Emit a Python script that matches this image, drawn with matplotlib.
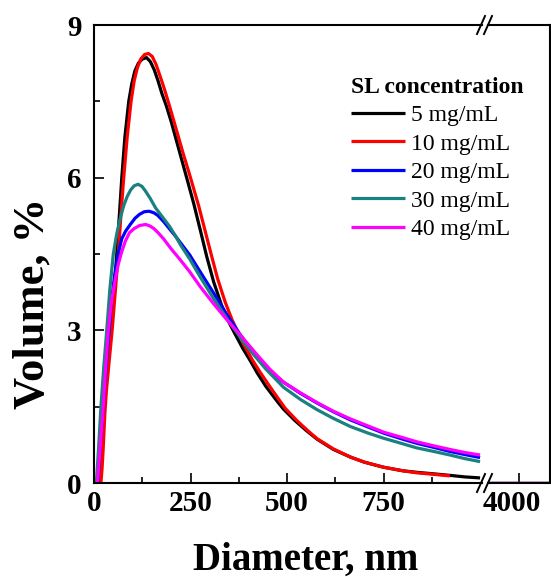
import numpy as np
import matplotlib
matplotlib.use('Agg')
import matplotlib.pyplot as plt
import matplotlib.transforms as mtransforms

plt.rcParams['font.family'] = ['Liberation Serif', 'DejaVu Serif']

# size distributions (diameter in nm, volume in %)
black_nm = [12, 15, 18, 21, 24, 30, 37, 44, 52, 59, 66, 72, 80, 90, 98, 106, 115, 125, 136, 146, 156, 166,
            176, 187, 200, 220, 240, 258, 275, 292, 310, 330, 350, 366, 385, 405, 423, 445, 475, 491, 520,
            550, 578, 620, 664, 700, 750, 800, 836, 880, 922, 960, 1000]
black_v = [0, 0.25, 0.6, 1.0, 1.5, 2.0, 2.5, 3.0, 3.8, 4.5, 5.3, 6.0, 6.8, 7.5, 7.85, 8.1, 8.25, 8.33, 8.36, 8.28, 8.12, 7.9,
           7.65, 7.42, 7.1, 6.55, 6.0, 5.5, 4.98, 4.45, 3.95, 3.5, 3.15, 2.92, 2.65, 2.4, 2.16, 1.9, 1.6, 1.45, 1.23,
           1.03, 0.86, 0.66, 0.51, 0.41, 0.31, 0.24, 0.21, 0.18, 0.15, 0.12, 0.10]

red_nm = [18, 21, 24, 28, 32, 40, 47, 55, 63, 70, 77, 86, 96, 104, 112, 121, 131, 141, 151, 161, 171, 182,
          194, 210, 230, 248, 271, 288, 305, 320, 340, 358, 372, 390, 410, 430, 455, 478, 495, 525, 555, 578,
          620, 664, 700, 750, 800, 836, 880, 922]
red_v = [0, 0.3, 0.7, 1.35, 1.8, 2.45, 3.0, 3.75, 4.5, 5.3, 6.0, 6.8, 7.5, 7.9, 8.15, 8.33, 8.42, 8.44, 8.38, 8.22, 8.0, 7.75,
         7.45, 7.03, 6.5, 6.05, 5.45, 4.95, 4.45, 4.02, 3.55, 3.2, 2.98, 2.7, 2.42, 2.18, 1.9, 1.65, 1.47, 1.23, 1.02, 0.87,
         0.67, 0.51, 0.41, 0.31, 0.24, 0.2, 0.17, 0.14]

blue_nm = [9, 12, 15, 19, 24, 31, 39, 45, 52, 58, 64, 72, 82, 94, 106, 118, 130, 143, 155, 165, 180, 195, 210,
           224, 248, 275, 310, 345, 380, 420, 455, 491, 535, 578, 620, 664, 710, 750, 800, 836, 880, 922, 960, 1000]
blue_v = [0, 0.3, 0.6, 1.0, 1.5, 2.25, 3.0, 3.55, 4.0, 4.3, 4.55, 4.8, 4.95, 5.08, 5.2, 5.28, 5.33, 5.34, 5.31, 5.26, 5.14, 5.0, 4.86,
          4.72, 4.48, 4.15, 3.73, 3.3, 2.9, 2.5, 2.2, 1.98, 1.76, 1.57, 1.4, 1.24, 1.1, 0.98, 0.86, 0.78, 0.7, 0.62, 0.56, 0.5]

teal_nm = [6, 9, 12, 15, 18, 25, 33, 41, 50, 59, 68, 77, 86, 95, 104, 114, 124, 133, 145, 160, 178, 195, 210,
           224, 248, 275, 310, 345, 380, 405, 445, 491, 535, 578, 620, 664, 710, 750, 800, 836, 880, 922, 960, 1000]
teal_v = [0, 0.35, 0.7, 1.1, 1.5, 2.25, 3.0, 3.8, 4.5, 4.9, 5.2, 5.45, 5.63, 5.76, 5.84, 5.87, 5.83, 5.74, 5.6, 5.4, 5.22, 5.05, 4.87,
          4.68, 4.4, 4.05, 3.62, 3.22, 2.85, 2.6, 2.24, 1.88, 1.64, 1.44, 1.27, 1.11, 0.98, 0.88, 0.77, 0.69, 0.62, 0.55, 0.48, 0.42]

mag_nm = [9, 12, 15, 19, 24, 30, 37, 46, 55, 63, 70, 81, 92, 104, 118, 134, 145, 155, 167, 180, 200, 224, 248,
          275, 310, 345, 380, 420, 455, 491, 535, 578, 620, 664, 710, 750, 800, 836, 880, 922, 960, 1000]
mag_v = [0, 0.3, 0.6, 1.0, 1.5, 2.25, 3.0, 3.6, 4.0, 4.3, 4.5, 4.75, 4.92, 5.0, 5.06, 5.08, 5.05, 5.0, 4.91, 4.8, 4.6, 4.38, 4.15,
         3.86, 3.52, 3.2, 2.9, 2.54, 2.24, 1.98, 1.77, 1.58, 1.41, 1.26, 1.12, 1.0, 0.89, 0.81, 0.73, 0.66, 0.6, 0.55]

# past the axis break everything sits on zero
tail_nm = [3900, 4100]
tail_v = [0, 0]

labels = ['5 mg/mL', '10 mg/mL', '20 mg/mL', '30 mg/mL', '40 mg/mL']
colors = ['#000000', '#ff0000', '#0000ff', '#1a8080', '#ff00ff']
series = [(black_nm, black_v), (red_nm, red_v), (blue_nm, blue_v), (teal_nm, teal_v), (mag_nm, mag_v)]

W, H = 551, 577
fig = plt.figure(figsize=(W / 100, H / 100), dpi=100)

y0, y1 = 483, 25
ax = fig.add_axes([94 / W, (H - y0) / H, (482 - 94) / W, (y0 - y1) / H])
ax2 = fig.add_axes([488 / W, (H - y0) / H, (549.5 - 488) / W, (y0 - y1) / H])
ax2.patch.set_visible(False)

lw = 2.3
handles = []
for (xs, ys), c, lab in zip(series, colors, labels):
    h, = ax.plot(xs, ys, color=c, lw=lw, label=lab, solid_capstyle='butt')
    ax2.plot(tail_nm, tail_v, color=c, lw=lw)
    handles.append(h)

ax.set_xlim(0, 1005)
ax.set_ylim(0, 9)
ax2.set_xlim(3917, 4080)
ax2.set_ylim(0, 9)

ax.set_xticks([0, 250, 500, 750])
ax.set_xticks([125, 375, 625, 875], minor=True)
ax.set_yticks([0, 3, 6, 9])
ax.set_yticks([1.5, 4.5, 7.5], minor=True)
ax2.set_xticks([4000])
ax2.set_yticks([])

spw = 1.5
for a in (ax, ax2):
    for s in a.spines.values():
        s.set_linewidth(spw)
    a.tick_params(which='major', direction='in', length=7, width=1.2, labelsize=21, pad=5)
    a.tick_params(which='minor', direction='in', length=4.5, width=1.2)
ax.tick_params(axis='y', pad=9)
ax.spines['right'].set_visible(False)
ax2.spines['left'].set_visible(False)

for a in (ax, ax2):
    for lbl in a.get_xticklabels() + a.get_yticklabels():
        lbl.set_fontweight('bold')

# nudge the lone 4000 label a bit left like the original
off = mtransforms.ScaledTranslation(-8 / 100, 0, fig.dpi_scale_trans)
for lbl in ax2.get_xticklabels():
    lbl.set_transform(lbl.get_transform() + off)

# break marks on top and bottom spines
for yb in (y0, y1):
    for xb in (481, 488):
        fig.add_artist(plt.Line2D([(xb - 4) / W, (xb + 4) / W], [(H - yb - 9) / H, (H - yb + 9) / H],
                                  color='black', lw=1.4, transform=fig.transFigure))

fig.text(306 / W, 1 - 560 / H, 'Diameter, nm', ha='center', va='center', fontsize=28, fontweight='bold')
fig.text(33 / W, 1 - 303 / H, 'Volume, %', ha='center', va='center', rotation=90, fontsize=32, fontweight='bold')

leg = fig.legend(handles=handles, loc='upper left', bbox_to_anchor=(351 / W, 1 - 77 / H),
                 frameon=False, fontsize=17, title='SL concentration', alignment='left',
                 handlelength=2.3, handletextpad=0.25, labelspacing=0.29, borderpad=0, borderaxespad=0)
leg.get_title().set_fontweight('bold')
leg.get_title().set_fontsize(17)

fig.savefig('out.png', dpi=100)
